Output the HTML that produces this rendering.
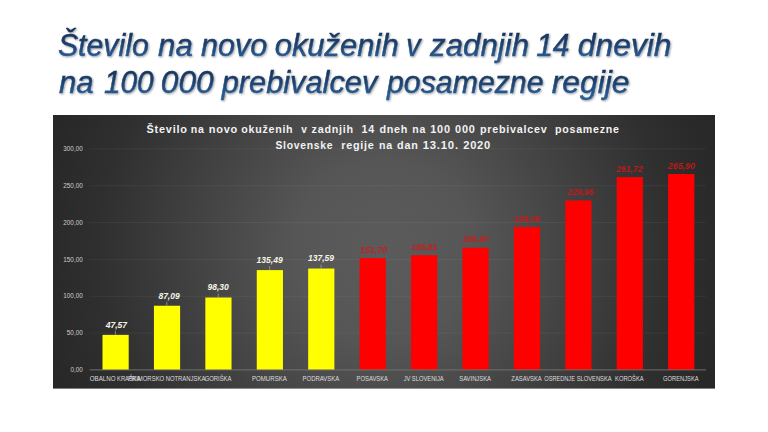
<!DOCTYPE html>
<html lang="sl">
<head>
<meta charset="utf-8">
<title>Število na novo okuženih v zadnjih 14 dnevih</title>
<style>
html,body{margin:0;padding:0;background:#fff;}
body{width:768px;height:432px;overflow:hidden;position:relative;}
svg{position:absolute;left:0;top:0;display:block;}
text{font-family:"Liberation Sans",sans-serif;}
.ttl{font-style:italic;font-size:30.6px;fill:url(#tg);stroke:url(#tg);stroke-width:0.45px;}
.ct{font-weight:bold;font-size:10.2px;letter-spacing:0.7px;fill:#f2f2f2;}
.yl{font-size:6.3px;fill:#cdcdcd;}
.xl{font-size:6.5px;fill:#dedede;}
.dl{font-weight:bold;font-style:italic;font-size:8.4px;}
.dy{fill:#f6f5e6;}
.dr{fill:#d81515;opacity:0.9;}
</style>
</head>
<body>
<svg width="768" height="432" viewBox="0 0 768 432">
<defs>
<radialGradient id="bg" cx="384" cy="251.5" r="358" gradientUnits="userSpaceOnUse">
<stop offset="0" stop-color="#5b5b5b"/>
<stop offset="0.25" stop-color="#565656"/>
<stop offset="0.8" stop-color="#2f2f2f"/>
<stop offset="1" stop-color="#272727"/>
</radialGradient>
<linearGradient id="tg" gradientUnits="userSpaceOnUse" x1="0" y1="0" x2="0" y2="37.5" spreadMethod="repeat" gradientTransform="translate(0,26)">
<stop offset="0" stop-color="#162f52"/>
<stop offset="0.45" stop-color="#1c3f6b"/>
<stop offset="0.85" stop-color="#2a5c94"/>
<stop offset="1" stop-color="#2a5c94"/>
</linearGradient>
<filter id="sh" x="-2%" y="-20%" width="104%" height="140%">
<feGaussianBlur in="SourceAlpha" stdDeviation="1.2" result="b"/>
<feOffset in="b" dx="0.7" dy="1.1" result="o"/>
<feComponentTransfer in="o" result="s"><feFuncA type="linear" slope="0.38"/></feComponentTransfer>
<feMerge><feMergeNode in="s"/><feMergeNode in="SourceGraphic"/></feMerge>
</filter>
</defs>
<rect x="0" y="0" width="768" height="432" fill="#ffffff"/>

<g filter="url(#sh)">
<text class="ttl" x="57.90" y="55.60" textLength="90.83" lengthAdjust="spacingAndGlyphs">Število</text>
<text class="ttl" x="158.07" y="55.60" textLength="34.67" lengthAdjust="spacingAndGlyphs">na</text>
<text class="ttl" x="201.09" y="55.60" textLength="66.24" lengthAdjust="spacingAndGlyphs">novo</text>
<text class="ttl" x="274.65" y="55.60" textLength="124.06" lengthAdjust="spacingAndGlyphs">okuženih</text>
<text class="ttl" x="406.13" y="55.60" textLength="14.34" lengthAdjust="spacingAndGlyphs">v</text>
<text class="ttl" x="430.14" y="55.60" textLength="98.92" lengthAdjust="spacingAndGlyphs">zadnjih</text>
<text class="ttl" x="536.20" y="55.60" textLength="33.29" lengthAdjust="spacingAndGlyphs">14</text>
<text class="ttl" x="577.89" y="55.60" textLength="93.68" lengthAdjust="spacingAndGlyphs">dnevih</text>
<text class="ttl" x="58.90" y="93.10" textLength="34.67" lengthAdjust="spacingAndGlyphs">na</text>
<text class="ttl" x="103.92" y="93.10" textLength="49.78" lengthAdjust="spacingAndGlyphs">100</text>
<text class="ttl" x="160.79" y="93.10" textLength="52.82" lengthAdjust="spacingAndGlyphs">000</text>
<text class="ttl" x="221.72" y="93.10" textLength="155.56" lengthAdjust="spacingAndGlyphs">prebivalcev</text>
<text class="ttl" x="387.03" y="93.10" textLength="156.53" lengthAdjust="spacingAndGlyphs">posamezne</text>
<text class="ttl" x="551.70" y="93.10" textLength="77.90" lengthAdjust="spacingAndGlyphs">regije</text>
</g>
<rect x="53" y="115" width="662" height="273.6" fill="url(#bg)"/>
<line x1="89.5" y1="333.07" x2="706" y2="333.07" stroke="#ffffff" stroke-opacity="0.07" stroke-width="0.8"/>
<line x1="89.5" y1="296.23" x2="706" y2="296.23" stroke="#ffffff" stroke-opacity="0.07" stroke-width="0.8"/>
<line x1="89.5" y1="259.40" x2="706" y2="259.40" stroke="#ffffff" stroke-opacity="0.07" stroke-width="0.8"/>
<line x1="89.5" y1="222.57" x2="706" y2="222.57" stroke="#ffffff" stroke-opacity="0.07" stroke-width="0.8"/>
<line x1="89.5" y1="185.73" x2="706" y2="185.73" stroke="#ffffff" stroke-opacity="0.07" stroke-width="0.8"/>
<line x1="89.5" y1="148.90" x2="706" y2="148.90" stroke="#ffffff" stroke-opacity="0.07" stroke-width="0.8"/>
<rect x="102.50" y="334.86" width="26.20" height="35.04" fill="#ffff00"/>
<rect x="153.92" y="305.74" width="26.20" height="64.16" fill="#ffff00"/>
<rect x="205.34" y="297.49" width="26.20" height="72.41" fill="#ffff00"/>
<rect x="256.76" y="270.09" width="26.20" height="99.81" fill="#ffff00"/>
<rect x="308.18" y="268.54" width="26.20" height="101.36" fill="#ffff00"/>
<rect x="359.60" y="258.15" width="26.20" height="111.75" fill="#ff0000"/>
<rect x="411.02" y="255.12" width="26.20" height="114.78" fill="#ff0000"/>
<rect x="462.44" y="247.64" width="26.20" height="122.26" fill="#ff0000"/>
<rect x="513.86" y="226.94" width="26.20" height="142.96" fill="#ff0000"/>
<rect x="565.28" y="200.50" width="26.20" height="169.40" fill="#ff0000"/>
<rect x="616.70" y="177.10" width="26.20" height="192.80" fill="#ff0000"/>
<rect x="668.12" y="174.02" width="26.20" height="195.88" fill="#ff0000"/>
<line x1="89.5" y1="369.90" x2="706" y2="369.90" stroke="#767676" stroke-width="0.9"/>
<text class="yl" x="70.41" y="372.00" textLength="12.34" lengthAdjust="spacingAndGlyphs">0,00</text>
<text class="yl" x="66.85" y="335.17" textLength="15.89" lengthAdjust="spacingAndGlyphs">50,00</text>
<text class="yl" x="63.30" y="298.33" textLength="19.44" lengthAdjust="spacingAndGlyphs">100,00</text>
<text class="yl" x="63.30" y="261.50" textLength="19.44" lengthAdjust="spacingAndGlyphs">150,00</text>
<text class="yl" x="63.30" y="224.67" textLength="19.44" lengthAdjust="spacingAndGlyphs">200,00</text>
<text class="yl" x="63.30" y="187.83" textLength="19.44" lengthAdjust="spacingAndGlyphs">250,00</text>
<text class="yl" x="63.30" y="151.00" textLength="19.44" lengthAdjust="spacingAndGlyphs">300,00</text>
<text class="xl" x="89.82" y="380.60" textLength="25.78" lengthAdjust="spacingAndGlyphs">OBALNO</text>
<text class="xl" x="117.02" y="380.60" textLength="23.53" lengthAdjust="spacingAndGlyphs">KRAŠKA</text>
<text class="xl" x="127.88" y="380.60" textLength="36.35" lengthAdjust="spacingAndGlyphs">PRIMORSKO</text>
<text class="xl" x="165.66" y="380.60" textLength="39.66" lengthAdjust="spacingAndGlyphs">NOTRANJSKA</text>
<text class="xl" x="204.64" y="380.60" textLength="26.78" lengthAdjust="spacingAndGlyphs">GORIŠKA</text>
<text class="xl" x="251.98" y="380.60" textLength="34.91" lengthAdjust="spacingAndGlyphs">POMURSKA</text>
<text class="xl" x="302.57" y="380.60" textLength="36.59" lengthAdjust="spacingAndGlyphs">PODRAVSKA</text>
<text class="xl" x="356.56" y="380.60" textLength="31.45" lengthAdjust="spacingAndGlyphs">POSAVSKA</text>
<text class="xl" x="403.72" y="380.60" textLength="6.74" lengthAdjust="spacingAndGlyphs">JV</text>
<text class="xl" x="411.83" y="380.60" textLength="31.86" lengthAdjust="spacingAndGlyphs">SLOVENIJA</text>
<text class="xl" x="459.24" y="380.60" textLength="31.76" lengthAdjust="spacingAndGlyphs">SAVINJSKA</text>
<text class="xl" x="511.32" y="380.60" textLength="30.45" lengthAdjust="spacingAndGlyphs">ZASAVSKA</text>
<text class="xl" x="544.26" y="380.60" textLength="30.66" lengthAdjust="spacingAndGlyphs">OSREDNJE</text>
<text class="xl" x="576.70" y="380.60" textLength="34.97" lengthAdjust="spacingAndGlyphs">SLOVENSKA</text>
<text class="xl" x="615.11" y="380.60" textLength="28.55" lengthAdjust="spacingAndGlyphs">KOROŠKA</text>
<text class="xl" x="663.03" y="380.60" textLength="35.55" lengthAdjust="spacingAndGlyphs">GORENJSKA</text>
<line x1="115.40" y1="330.86" x2="115.40" y2="334.86" stroke="#b8b8b8" stroke-width="0.6"/>
<text class="dl dy" x="105.70" y="327.56" textLength="21.31" lengthAdjust="spacingAndGlyphs">47,57</text>
<line x1="166.82" y1="301.74" x2="166.82" y2="305.74" stroke="#b8b8b8" stroke-width="0.6"/>
<text class="dl dy" x="158.40" y="299.24" textLength="21.32" lengthAdjust="spacingAndGlyphs">87,09</text>
<line x1="218.24" y1="293.49" x2="218.24" y2="297.49" stroke="#b8b8b8" stroke-width="0.6"/>
<text class="dl dy" x="207.52" y="290.19" textLength="21.32" lengthAdjust="spacingAndGlyphs">98,30</text>
<line x1="269.66" y1="266.09" x2="269.66" y2="270.09" stroke="#b8b8b8" stroke-width="0.6"/>
<text class="dl dy" x="256.57" y="262.79" textLength="26.07" lengthAdjust="spacingAndGlyphs">135,49</text>
<line x1="321.08" y1="264.54" x2="321.08" y2="268.54" stroke="#b8b8b8" stroke-width="0.6"/>
<text class="dl dy" x="307.99" y="261.24" textLength="26.07" lengthAdjust="spacingAndGlyphs">137,59</text>
<text class="dl dr" x="359.72" y="252.85" textLength="27.21" lengthAdjust="spacingAndGlyphs">151,70</text>
<text class="dl dr" x="411.14" y="249.82" textLength="26.22" lengthAdjust="spacingAndGlyphs">155,81</text>
<text class="dl dr" x="462.56" y="242.34" textLength="26.23" lengthAdjust="spacingAndGlyphs">165,97</text>
<text class="dl dr" x="513.98" y="221.64" textLength="26.22" lengthAdjust="spacingAndGlyphs">194,06</text>
<text class="dl dr" x="567.89" y="195.20" textLength="26.23" lengthAdjust="spacingAndGlyphs">229,96</text>
<text class="dl dr" x="616.81" y="171.80" textLength="26.23" lengthAdjust="spacingAndGlyphs">261,72</text>
<text class="dl dr" x="668.26" y="168.72" textLength="27.19" lengthAdjust="spacingAndGlyphs">265,90</text>
<text class="ct" x="146.60" y="133.20" textLength="41.03" lengthAdjust="spacingAndGlyphs">Število</text>
<text class="ct" x="190.77" y="133.20" textLength="13.75" lengthAdjust="spacingAndGlyphs">na</text>
<text class="ct" x="208.76" y="133.20" textLength="29.28" lengthAdjust="spacingAndGlyphs">novo</text>
<text class="ct" x="241.19" y="133.20" textLength="52.19" lengthAdjust="spacingAndGlyphs">okuženih</text>
<text class="ct" x="301.23" y="133.20" textLength="6.33" lengthAdjust="spacingAndGlyphs">v</text>
<text class="ct" x="311.57" y="133.20" textLength="42.20" lengthAdjust="spacingAndGlyphs">zadnjih</text>
<text class="ct" x="361.61" y="133.20" textLength="13.40" lengthAdjust="spacingAndGlyphs">14</text>
<text class="ct" x="379.40" y="133.20" textLength="28.76" lengthAdjust="spacingAndGlyphs">dneh</text>
<text class="ct" x="412.31" y="133.20" textLength="13.75" lengthAdjust="spacingAndGlyphs">na</text>
<text class="ct" x="430.28" y="133.20" textLength="20.46" lengthAdjust="spacingAndGlyphs">100</text>
<text class="ct" x="455.13" y="133.20" textLength="20.46" lengthAdjust="spacingAndGlyphs">000</text>
<text class="ct" x="479.96" y="133.20" textLength="67.42" lengthAdjust="spacingAndGlyphs">prebivalcev</text>
<text class="ct" x="555.06" y="133.20" textLength="64.56" lengthAdjust="spacingAndGlyphs">posamezne</text>
<text class="ct" x="275.40" y="148.70" textLength="57.79" lengthAdjust="spacingAndGlyphs">Slovenske</text>
<text class="ct" x="341.30" y="148.70" textLength="33.33" lengthAdjust="spacingAndGlyphs">regije</text>
<text class="ct" x="379.00" y="148.70" textLength="13.85" lengthAdjust="spacingAndGlyphs">na</text>
<text class="ct" x="397.11" y="148.70" textLength="21.38" lengthAdjust="spacingAndGlyphs">dan</text>
<text class="ct" x="422.68" y="148.70" textLength="36.19" lengthAdjust="spacingAndGlyphs">13.10.</text>
<text class="ct" x="463.21" y="148.70" textLength="27.70" lengthAdjust="spacingAndGlyphs">2020</text>
</svg>
</body>
</html>
